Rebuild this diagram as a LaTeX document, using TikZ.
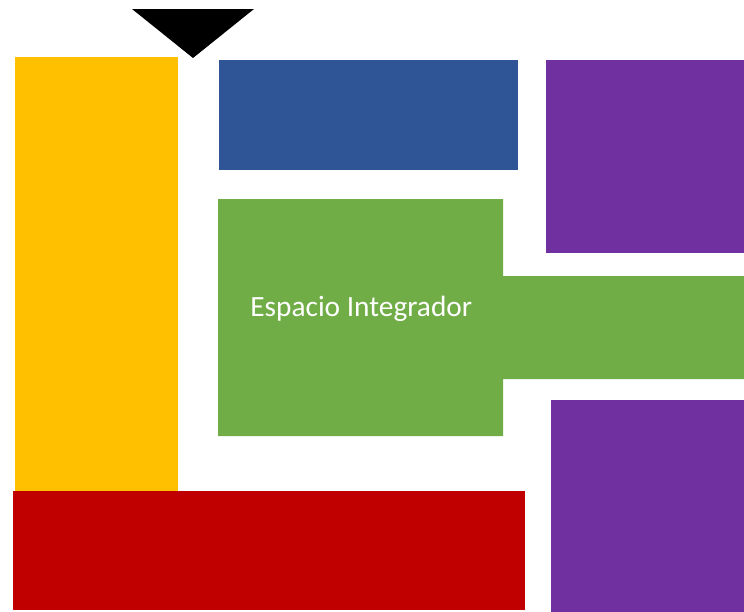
\documentclass[tikz,border=0pt]{standalone}
\usepackage{fontspec}
\setmainfont{Carlito}
\usetikzlibrary{positioning}
\definecolor{hallcolor}{RGB}{255, 192, 0}
\definecolor{bluecolor}{RGB}{47, 85, 151}
\definecolor{purplecolor}{RGB}{112, 48, 160}
\definecolor{greencolor}{RGB}{112, 173, 71}
\definecolor{redcolor}{RGB}{192, 0, 0}
\tikzset{
    % Rooms
    room/.style={draw=none},
    hallroom/.style={room, fill=hallcolor},
    blueroom/.style={room, fill=bluecolor},
    purpleroom/.style={room, fill=purplecolor},
    greenroom/.style={room, fill=greencolor},
    redroom/.style={room, fill=redcolor},
    % Labels
    roomlabel/.style={text=white, font=\fontsize{16.7}{20}\selectfont, inner sep=0pt},
    % Entrance marker
    entrance/.style={fill=black, draw=none},
}
\begin{document}
\begin{tikzpicture}[x=0.02cm, y=-0.02cm]
\useasboundingbox (0,0) rectangle (744,612);

% ===== Entrance =====
\fill[entrance] (132,9) -- (254,9) -- (193,58) -- cycle;

% ===== Left corridor =====
\fill[hallroom] (15,57) rectangle (178,491);

% ===== Top rooms =====
\fill[blueroom] (219,60) rectangle (518,170);
\fill[purpleroom] (546,60) rectangle (744,253);

% ===== Integrating space =====
\fill[greenroom] (218,199) -- (503,199) -- (503,276) -- (744,276)
    -- (744,379) -- (503,379) -- (503,436) -- (218,436) -- cycle;
\node (integrador) [roomlabel, anchor=base west] at (250,316) {Espacio Integrador};

% ===== Bottom rooms =====
\fill[redroom] (13,491) rectangle (525,610);
\fill[purpleroom] (551,400) rectangle (744,612);

\end{tikzpicture}
\end{document}
